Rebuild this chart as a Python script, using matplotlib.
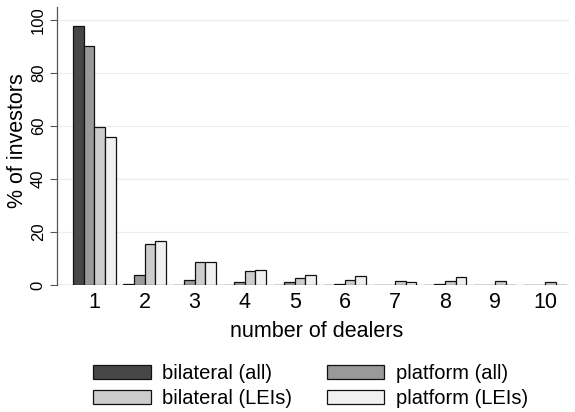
import numpy as np
import matplotlib.pyplot as plt

plt.rcParams['font.family'] = ['Liberation Sans', 'DejaVu Sans']

# Share of investors by number of dealers traded with
dealers = [1, 2, 3, 4, 5, 6, 7, 8, 9, 10]
bilateral_all = [97.8, 0.5, 0.1, 0.1, 0.1, 0.1, 0.1, 0.1, 0.1, 0.1]
platform_all = [90.2, 4.0, 1.8, 1.0, 1.0, 0.4, 0.2, 0.4, 0.1, 0.1]
bilateral_lei = [59.6, 15.7, 8.6, 5.4, 2.5, 2.0, 1.5, 1.6, 1.6, 1.1]
platform_lei = [55.8, 16.7, 8.9, 5.8, 4.0, 3.5, 1.3, 2.9, 0.1, 0.2]

series = [bilateral_all, platform_all, bilateral_lei, platform_lei]
labels = ['bilateral (all)', 'platform (all)', 'bilateral (LEIs)', 'platform (LEIs)']
colors = ['#474747', '#999999', '#cccccc', '#f0f0f0']

fig = plt.figure(figsize=(5.75, 4.12), dpi=100)
ax = fig.add_axes([0.099, 0.308, 0.89, 0.675])

x = np.arange(len(dealers)) + 1
w = 0.212
bars = []
for i, (vals, lab, c) in enumerate(zip(series, labels, colors)):
    b = ax.bar(x + (i - 1.5) * w, vals, width=w, color=c, edgecolor='#111111',
               linewidth=0.9, label=lab, zorder=3)
    bars.append(b)

ax.set_xlim(0.25, 10.47)
ax.set_ylim(0, 105)
ax.set_yticks([0, 20, 40, 60, 80, 100])
ax.set_xticks(x)
ax.set_xticklabels([str(d) for d in dealers])
ax.tick_params(axis='x', length=0, labelsize=15.5, pad=5)
ax.tick_params(axis='y', length=5, width=0.8, labelsize=12, color='#555555',
               pad=3)
for t in ax.get_yticklabels():
    t.set_rotation(90)
    t.set_va('center')

ax.yaxis.grid(True, color='#e6eef0', linewidth=0.9, zorder=0)
ax.set_axisbelow(True)
for s in ['top', 'right', 'bottom']:
    ax.spines[s].set_visible(False)
ax.spines['left'].set_color('#555555')
ax.spines['left'].set_linewidth(0.9)
ax.axhline(0, color='#888888', linewidth=0.9, zorder=2)

ax.set_xlabel('number of dealers', fontsize=15.5)
ax.set_ylabel('% of investors', fontsize=15.5)
ax.xaxis.set_label_coords(0.508, -0.128)
ax.yaxis.set_label_coords(-0.056, 0.518)

# legend fills column-wise, so order handles to read row by row
order = [0, 2, 1, 3]
fig.legend([bars[i] for i in order], [labels[i] for i in order],
           loc='center', bbox_to_anchor=(0.54, 0.063), ncol=2,
           frameon=False, fontsize=14.5, handlelength=2.85, handleheight=0.7,
           columnspacing=1.75, labelspacing=0.3, handletextpad=0.55,
           borderpad=0)

fig.savefig('out.png', dpi=100)
